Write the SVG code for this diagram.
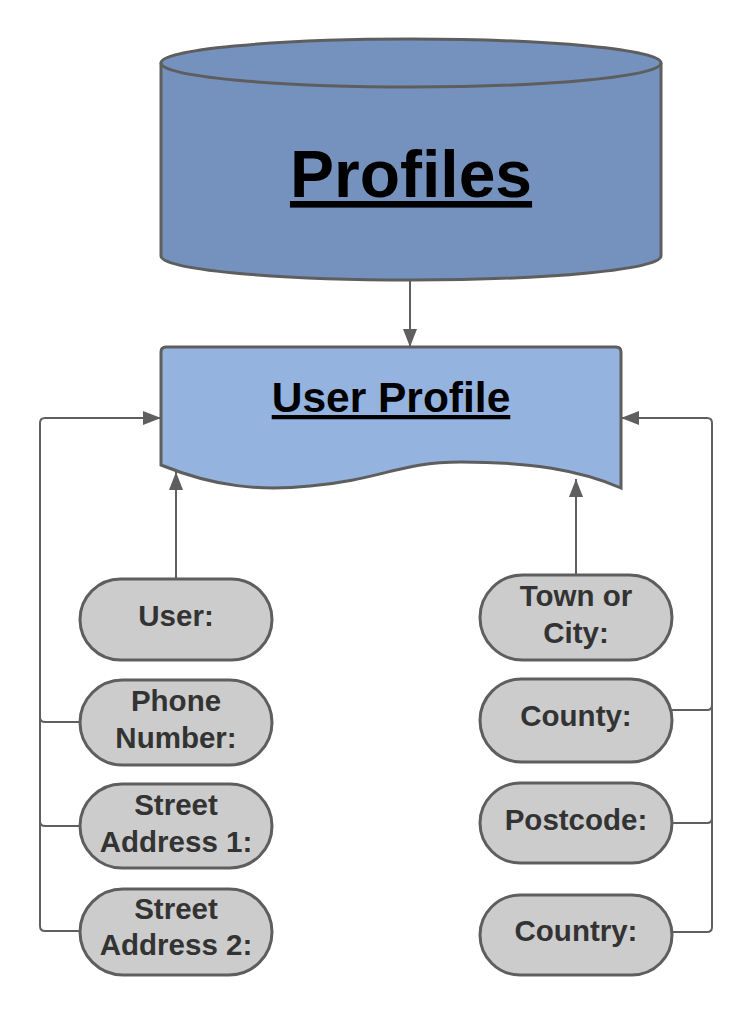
<svg xmlns="http://www.w3.org/2000/svg" width="753" height="1014" viewBox="0 0 753 1014">
<style>
.shape{stroke:#5e5e5e;stroke-width:3;}
.pill{fill:#cccccc;stroke:#5e5e5e;stroke-width:3;}
.conn{fill:none;stroke:#5f5f5f;stroke-width:2;}
.lbl{font-family:"Liberation Sans",Arial,sans-serif;font-weight:bold;font-size:29.5px;fill:#333333;text-anchor:middle;}
.title{font-family:"Liberation Sans",Arial,sans-serif;font-weight:bold;fill:#000000;text-anchor:middle;text-decoration:underline;}
</style>
<defs>
<marker id="arr" markerUnits="userSpaceOnUse" markerWidth="18" markerHeight="14" refX="18" refY="7" orient="auto">
<path d="M0,0 L18,7 L0,14 Z" fill="#5f5f5f"/>
</marker>
</defs>
<rect width="753" height="1014" fill="#ffffff"/>
<g id="profiles">
<path class="shape" fill="#7592be" d="M161,63 V256 A250,24 0 0 0 661,256 V63 A250,24 0 0 0 161,63 Z"/>
<path class="shape" fill="none" d="M161,63 A250,24 0 0 0 661,63"/>
<text class="title" x="411" y="197" font-size="66">Profiles</text>
</g>
<g id="user-profile">
<path class="shape" fill="#95b3df" d="M161,352 Q161,347 166,347 L616,347 Q621,347 621,352 L621,488 C580,470 530,462 461,462 C400,462 380,480 310,486 C260,491 215,487 161,465 Z"/>
<text class="title" x="391" y="412" font-size="42.5">User Profile</text>
</g>
<g id="user"><rect class="pill" x="80" y="579" width="192" height="81" rx="40.5"/><text class="lbl" x="176" y="626">User:</text></g>
<g id="phone"><rect class="pill" x="80" y="680" width="192" height="85" rx="42.5"/><text class="lbl" x="176" y="711">Phone</text><text class="lbl" x="176" y="748">Number:</text></g>
<g id="street1"><rect class="pill" x="80" y="784" width="192" height="84" rx="42"/><text class="lbl" x="176" y="815">Street</text><text class="lbl" x="176" y="852">Address 1:</text></g>
<g id="street2"><rect class="pill" x="80" y="889" width="192" height="86" rx="43"/><text class="lbl" x="176" y="919">Street</text><text class="lbl" x="176" y="955">Address 2:</text></g>
<g id="town"><rect class="pill" x="480" y="575" width="192" height="85" rx="42.5"/><text class="lbl" x="576" y="606">Town or</text><text class="lbl" x="576" y="643">City:</text></g>
<g id="county"><rect class="pill" x="480" y="679" width="192" height="83" rx="41.5"/><text class="lbl" x="576" y="726">County:</text></g>
<g id="postcode"><rect class="pill" x="480" y="783" width="192" height="80" rx="40"/><text class="lbl" x="576" y="830">Postcode:</text></g>
<g id="country"><rect class="pill" x="480" y="895" width="192" height="80" rx="40"/><text class="lbl" x="576" y="941">Country:</text></g>
<g id="connectors">
<path class="conn" d="M410,280 V347" marker-end="url(#arr)"/>
<path class="conn" d="M176,579 V472" marker-end="url(#arr)"/>
<path class="conn" d="M576,575 V479" marker-end="url(#arr)"/>
<path class="conn" d="M80,931 H45 Q40,931 40,926 V423 Q40,418 45,418 H161" marker-end="url(#arr)"/>
<path class="conn" d="M80,722 H45 Q40,722 40,717"/>
<path class="conn" d="M80,826 H45 Q40,826 40,821"/>
<path class="conn" d="M672,932 H707 Q712,932 712,927 V423 Q712,418 707,418 H621" marker-end="url(#arr)"/>
<path class="conn" d="M672,710 H707 Q712,710 712,705"/>
<path class="conn" d="M672,823 H707 Q712,823 712,818"/>
</g>
</svg>
